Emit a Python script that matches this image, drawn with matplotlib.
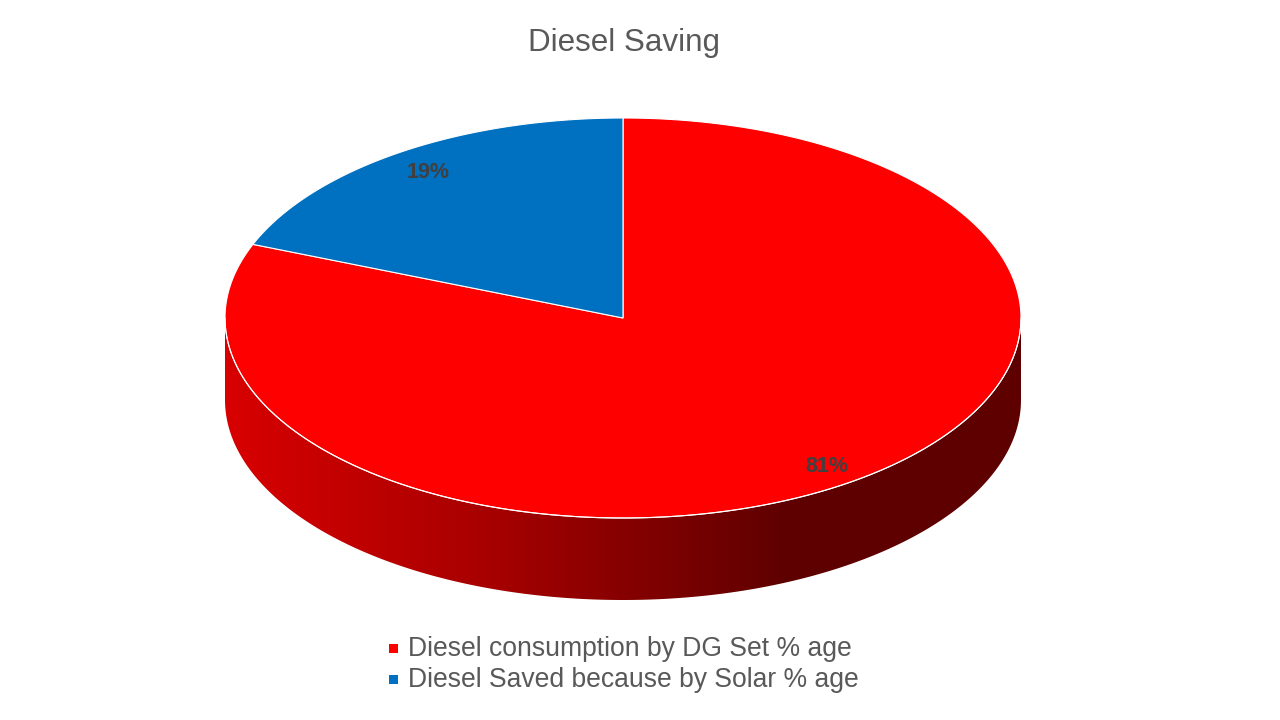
import numpy as np
import matplotlib
matplotlib.use("Agg")
import matplotlib.pyplot as plt
from matplotlib.patches import Polygon
from matplotlib.colors import LinearSegmentedColormap

# data
labels = ["Diesel consumption by DG Set % age", "Diesel Saved because by Solar % age"]
values = [81, 19]
colors = ["#FF0000", "#0070C0"]
title = "Diesel Saving"

# geometry of the 3D pie in pixel coordinates
cx, cy = 623, 318
rx, ry = 398, 200
depth = 82

plt.rcParams['font.family'] = ['Liberation Sans', 'DejaVu Sans']

fig = plt.figure(figsize=(12.8, 7.2), dpi=100)
ax = fig.add_axes([0, 0, 1, 1])
ax.set_xlim(0, 1280)
ax.set_ylim(720, 0)
ax.axis("off")


def ell(theta, dy=0):
    return cx + rx * np.cos(theta), cy - ry * np.sin(theta) + dy


# side wall (front half), gradient fill
t = np.linspace(np.pi, 2 * np.pi, 200)
xt, yt = ell(t)
xb, yb = ell(t[::-1], depth)
side = Polygon(np.column_stack([np.r_[xt, xb], np.r_[yt, yb]]), closed=True,
               facecolor="none", edgecolor="none")
ax.add_patch(side)
cmap = LinearSegmentedColormap.from_list("side", ["#D80000", "#A30000", "#5E0000"])
grad = np.clip((np.linspace(cx - rx, cx + rx, 400) - (cx - rx)) / 565.0, 0, 1)
img = ax.imshow(grad[None, :], cmap=cmap, vmin=0, vmax=1, aspect="auto",
                extent=[cx - rx, cx + rx, cy + ry + depth, cy - ry],
                interpolation="bilinear", zorder=1)
img.set_clip_path(side)

# white rim on the front top edge
ax.plot(xt, yt, color="white", lw=0.8, zorder=3)

# top face wedges, starting at 12 o'clock
total = sum(values)
start = np.pi / 2
fracs = [v / total for v in values]
# red goes clockwise from top, blue counterclockwise
angles = [(start - 2 * np.pi * fracs[0], start), (start, start + 2 * np.pi * fracs[1])]
for (a0, a1), c in zip(angles, colors):
    th = np.linspace(a0, a1, 300)
    x, y = ell(th)
    poly = Polygon(np.column_stack([np.r_[cx, x], np.r_[cy, y]]), closed=True,
                   facecolor=c, edgecolor="white", lw=0.8, zorder=2)
    ax.add_patch(poly)

# percentage labels
ax.text(827, 466, f"{values[0]}%", fontsize=15.5, fontweight="bold", color="#404040",
        ha="center", va="center", zorder=5)
ax.text(428, 172, f"{values[1]}%", fontsize=15.5, fontweight="bold", color="#404040",
        ha="center", va="center", zorder=5)

ax.text(624, 43, title, fontsize=22.6, color="#595959", ha="center", va="center")

# legend
for i, (lab, c) in enumerate(zip(labels, colors)):
    y = 649 + i * 31
    ax.add_patch(Polygon([[389, y - 5], [398, y - 5], [398, y + 4], [389, y + 4]],
                         closed=True, facecolor=c, edgecolor="none"))
    ax.text(408, y, lab, fontsize=19.1, color="#595959", ha="left", va="center")

fig.savefig("out.png", dpi=100)
